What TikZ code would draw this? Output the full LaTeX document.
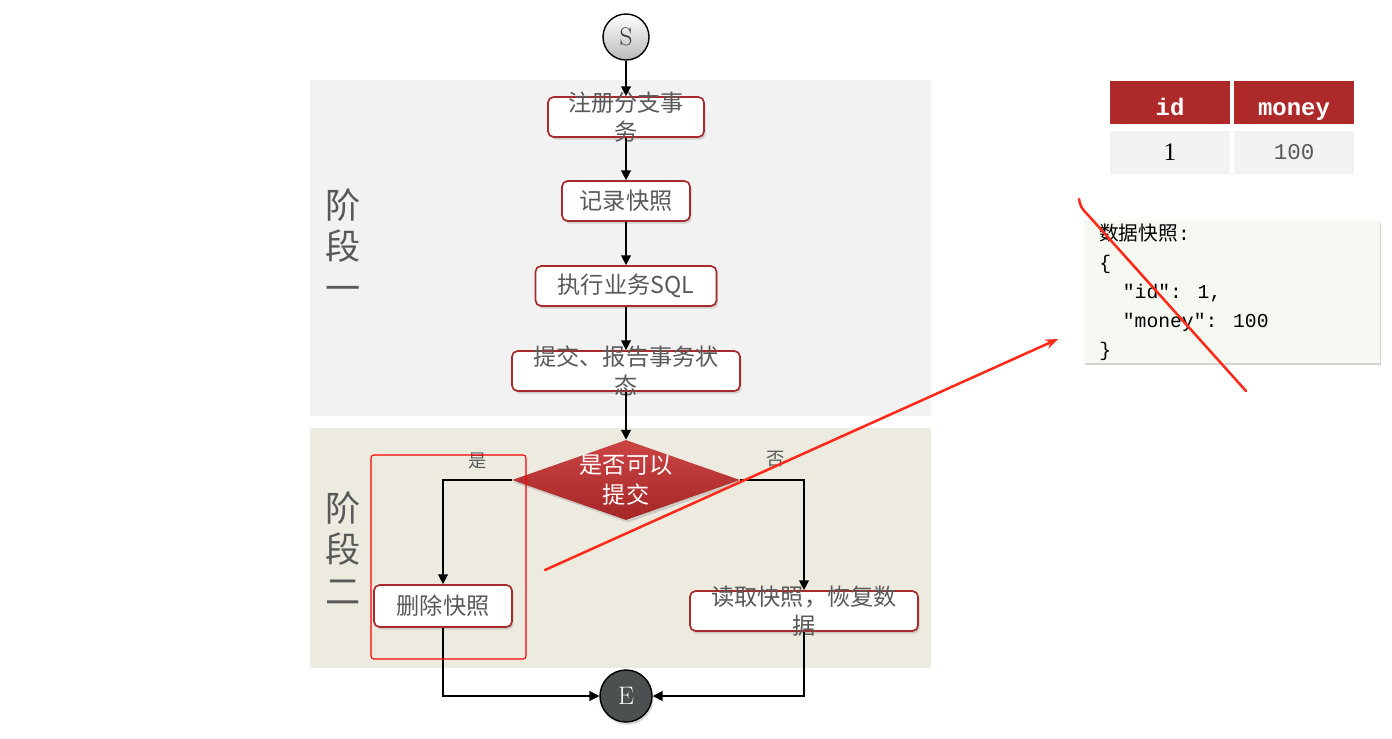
\documentclass[tikz,border=0pt]{standalone}
\usepackage{fontspec}
\newfontfamily\cjk{Noto Sans CJK SC}
\newfontfamily\codefont{Liberation Mono}
\usetikzlibrary{shapes.geometric,arrows.meta,positioning,shadows}
\definecolor{boxred}{HTML}{A82B2B}
\definecolor{headred}{HTML}{AE2A2A}
\definecolor{txtgray}{HTML}{595959}
\definecolor{bgone}{HTML}{F2F2F2}
\definecolor{bgtwo}{HTML}{EDEBE0}
\definecolor{snapfill}{HTML}{F5F8F1}
\definecolor{markred}{HTML}{FF2A1A}
\definecolor{diatop}{HTML}{CC4545}
\definecolor{diabot}{HTML}{A52626}
\definecolor{endgray}{HTML}{4B5050}

\begin{document}
\begin{tikzpicture}[
  x=0.025cm, y=-0.025cm,
  stepbox/.style={draw=boxred, line width=1.2pt, fill=white, rounded corners=4pt, minimum height=1cm, inner sep=0pt, drop shadow={shadow xshift=1.2pt, shadow yshift=-1.8pt, opacity=0.3}},
  boxtext/.style={font=\cjk\fontsize{16.5}{21}\selectfont, text=txtgray, align=center, inner sep=0pt},
  decision/.style={diamond, minimum width=5.7cm, minimum height=2cm, inner sep=0pt, top color=diatop, bottom color=diabot, drop shadow={shadow xshift=1.2pt, shadow yshift=-1.8pt, opacity=0.3}},
  terminal/.style={circle, draw=black, line width=1pt, inner sep=0pt, font=\fontsize{18}{20}\selectfont},
  flow/.style={-{Triangle[width=7pt,length=7pt]}, line width=1pt},
  phaselabel/.style={font=\cjk\fontsize{25}{29.5}\selectfont, text=txtgray, align=center},
  choice/.style={font=\cjk\fontsize{13}{15}\selectfont, text=txtgray},
  headcell/.style={fill=headred, text=white, minimum width=3cm, minimum height=1.075cm, inner sep=0pt, text depth=0pt, text height=18pt, font=\codefont\bfseries\fontsize{17}{18}\selectfont},
  datacell/.style={fill=bgone, minimum width=3cm, minimum height=1.075cm, inner sep=0pt, font=\codefont\fontsize{16}{18}\selectfont},
  snapbox/.style={fill=snapfill, minimum width=7.4cm, minimum height=3.55cm, inner sep=0pt, drop shadow={shadow xshift=1pt, shadow yshift=-1.5pt, opacity=0.35}},
  redmark/.style={draw=markred, line width=1.8pt, line cap=round}
]
  \useasboundingbox (0,0) rectangle (1392,738);

  % Phase backgrounds
  \fill[bgone] (310,80) rectangle (931,416);
  \fill[bgtwo] (310,428) rectangle (931,668);
  \node[phaselabel] (phaseone) at (343,245) {阶\\段\\一};
  \node[phaselabel] (phasetwo) at (343,548) {阶\\段\\二};

  % Phase one
  \node[terminal, minimum size=1.15cm, top color=white, bottom color=gray!55, text=black!80] (start) at (626,37) {S};
  \node[stepbox, minimum width=3.9cm, label={[boxtext]center:注册分支事\\务}] (reg) at (626,117) {};
  \node[stepbox, minimum width=3.2cm, label={[boxtext]center:记录快照}] (snapshot) at (626,201) {};
  \node[stepbox, minimum width=4.525cm, label={[boxtext]center:执行业务SQL}] (exec) at (626,286) {};
  \node[stepbox, minimum width=5.7cm, label={[boxtext]center:提交、报告事务状\\态}] (report) at (626,371) {};
  \draw[flow] (start) -- (reg);
  \draw[flow] (reg) -- (snapshot);
  \draw[flow] (snapshot) -- (exec);
  \draw[flow] (exec) -- (report);

  % Phase two
  \node[decision, label={[boxtext, text=white]center:是否可以\\提交}] (check) at (626,480) {};
  \node[stepbox, minimum width=3.45cm, minimum height=1.05cm, label={[boxtext]center:删除快照}] (del) at (443,606) {};
  \node[stepbox, minimum width=5.7cm, label={[boxtext]center:读取快照，恢复数\\据}] (restore) at (804,611) {};
  \node[terminal, minimum size=1.3cm, fill=endgray, text=white, drop shadow={shadow xshift=1pt, shadow yshift=-2pt, opacity=0.3}] (finish) at (626,696) {E};
  \draw[flow] (report) -- (check);
  \draw[flow] (check.west) -| (del.north);
  \draw[flow] (check.east) -| (restore.north);
  \draw[flow] (del.south) |- (finish.west);
  \draw[flow] (restore.south) |- (finish.east);
  \node[choice] (yes) at (478,461) {是};
  \node[choice] (no) at (776,459) {否};
  \draw[red, line width=0.8pt, rounded corners=2pt] (371,455) rectangle (526,659);

  % Table
  \node[headcell] (hid) at (1170,102.5) {id};
  \node[headcell] (hmoney) at (1294,102.5) {money};
  \node[datacell] (did) at (1170,152.5) {\fontspec{Liberation Serif}\fontsize{18}{20}\selectfont 1};
  \node[datacell, text=txtgray] (dmoney) at (1294,152.5) {100};

  % Snapshot
  \node[snapbox] (snap) at (1232,292) {};
  \node[anchor=north west, align=left, inner sep=0pt, font=\codefont\fontsize{14}{20.6}\selectfont] (snaptext) at (1099,224) {{\cjk 数据快照}:\\\{\\\ \ ″id″: 1,\\\ \ ″money″: 100\\\}};

  % Red marks
  \coordinate (markfrom) at (545,570);
  \coordinate (markto) at (1058,339);
  \draw[redmark, -{Stealth[length=9pt,width=7pt]}] (markfrom) -- (markto);
  \draw[redmark] (1079,199) .. controls (1080,206) and (1082,209) .. (1088,215) -- (1246,391);
\end{tikzpicture}
\end{document}
